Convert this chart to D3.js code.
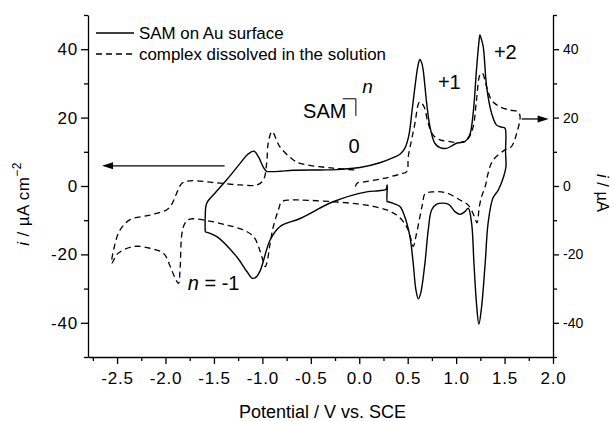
<!DOCTYPE html>
<html>
<head>
<meta charset="utf-8">
<script src="https://cdn.jsdelivr.net/npm/d3@7"></script>
<style>
  html, body { margin: 0; padding: 0; background: #fff; }
  svg { display: block; font-family: "Liberation Sans", Arial, sans-serif; }
  .axis path, .axis line { stroke: #000; stroke-width: 1.3; }
  .axis text { fill: #000; }
</style>
</head>
<body>
<svg id="chart" width="613" height="421"></svg>
<script>
// Cyclic voltammograms: SAM on Au (left axis, µA cm^-2) and complex in solution (right axis, µA)
const samPotential = [
  -1.59, -1.59, -1.575, -1.49, -1.37, -1.23, -1.15, -1.087, -1.04, -0.99, -0.956, -0.92, -0.82, -0.68,
  -0.4, -0.233, 0.007, 0.213, 0.35, 0.42, 0.47, 0.51, 0.545, 0.575, 0.605, 0.626, 0.645, 0.66, 0.696,
  0.73, 0.78, 0.833, 0.9, 0.96, 1.005, 1.09, 1.14, 1.176, 1.21, 1.235, 1.246, 1.26, 1.28, 1.315,
  1.366, 1.418, 1.47, 1.504, 1.51, 1.514, 1.49, 1.435, 1.38, 1.33, 1.30, 1.263, 1.235, 1.21, 1.184,
  1.16, 1.125, 1.09, 1.04, 0.988, 0.918, 0.8, 0.747, 0.712, 0.678, 0.634, 0.61, 0.585, 0.557, 0.523,
  0.47, 0.42, 0.35, 0.30, 0.289, 0.289, 0.275, 0.2, 0.076, -0.27, -0.61, -0.82, -0.92, -1.02, -1.06,
  -1.1, -1.16, -1.265, -1.47, -1.59
];
const samCurrent = [
  -13.4, -9.0, -5.1, -2.1, 1.75, 6.6, 9.3, 10.2, 8.5, 5.5, 4.3, 4.2, 4.3, 4.6,
  4.7, 4.8, 5.4, 6.8, 8.3, 9.3, 11.0, 14.5, 22.0, 29.0, 35.0, 37.0, 36.0, 33.9, 24.2,
  17.3, 12.5, 11.2, 11.0, 11.8, 12.5, 13.0, 14.9, 21.3, 33.9, 42.0, 44.2, 43.0, 40.7, 29.0,
  21.3, 17.8, 17.2, 16.9, 10.0, 5.6, 2.7, -1.2, -3.5, -10.9, -22.6, -35.3, -40.4, -34.3, -22.6,
  -10.9, -6.5, -7.5, -8.3, -7.5, -5.3, -5.3, -7.0, -12.9, -22.6, -31.4, -33.0, -30.4, -22.6, -14.8,
  -9.0, -6.0, -5.1, -4.6, -4.6, 0.3, -1.0, -1.4, -1.7, -4.6, -9.5, -11.9, -15.8, -24.6, -26.5,
  -27.0, -25.0, -20.7, -14.8, -13.4
];

const solPotential = [
  -0.04, -0.02, 0.05, 0.25, 0.42, 0.49, 0.506, 0.54, 0.575, 0.61, 0.626, 0.668, 0.712, 0.763,
  0.833, 0.936, 1.04, 1.125, 1.176, 1.21, 1.246, 1.27, 1.315, 1.366, 1.45, 1.555, 1.64, 1.66,
  1.625, 1.57, 1.50, 1.38, 1.33, 1.30, 1.263, 1.24, 1.215, 1.19, 1.125, 1.04, 0.9, 0.763, 0.678,
  0.654, 0.626, 0.592, 0.557, 0.54, 0.506, 0.454, 0.386, 0.283, 0.076, -0.27, -0.61, -0.715, -0.8,
  -0.835, -0.887, -0.92, -0.95, -0.97, -0.99, -1.04, -1.09, -1.19, -1.37, -1.575, -1.75, -1.8,
  -1.83, -1.85, -1.866, -1.9, -1.95, -2.02, -2.16, -2.33, -2.49, -2.555, -2.52, -2.47, -2.37,
  -2.16, -1.99, -1.94, -1.885, -1.83, -1.75, -1.5, -1.23, -1.06, -0.99, -0.956, -0.94, -0.9,
  -0.82, -0.68, -0.61, -0.27, -0.04
];
const solCurrent = [
  -0.2, 0.9, 1.2, 2.2, 3.5, 4.2, 8.6, 13.5, 18.3, 24.0, 24.6, 23.2, 18.3, 14.9,
  13.5, 13.0, 12.7, 13.9, 17.3, 25.1, 32.5, 33.0, 29.0, 25.1, 23.2, 22.2, 21.7, 20.3,
  15.4, 11.5, 10.5, 7.5, 3.7, -0.2, -3.1, -6.0, -10.8, -9.0, -5.6, -4.1, -2.0, -1.7, -2.3,
  -5.1, -9.0, -13.8, -17.7, -16.3, -12.9, -10.4, -8.5, -7.0, -5.6, -4.6, -4.1, -4.1, -4.6,
  -7.0, -11.9, -16.8, -22.0, -23.6, -22.1, -17.7, -14.8, -12.9, -11.4, -10.1, -9.7, -10.9,
  -13.8, -24.6, -28.5, -27.0, -23.6, -19.7, -18.2, -17.7, -19.7, -22.6, -16.8, -12.9, -9.9,
  -8.5, -7.0, -5.6, -2.1, 0.8, 1.5, 1.0, 0.3, 0.3, 1.75, 6.6, 12.5, 15.9,
  11.5, 7.6, 6.6, 5.2, 4.7
];

const xTickValues = [-2.5, -2.0, -1.5, -1.0, -0.5, 0.0, 0.5, 1.0, 1.5, 2.0];
const xMinorValues = [-2.75, -2.25, -1.75, -1.25, -0.75, -0.25, 0.25, 0.75, 1.25, 1.75];
const yTickValues = [-40, -20, 0, 20, 40];
const yMinorValues = [-50, -30, -10, 10, 30, 50];

const legendLabels = ["SAM on Au surface", "complex dissolved in the solution"];

const W = 613, H = 421;
const margin = { top: 15, right: 60, bottom: 64, left: 88 };
const svg = d3.select("#chart");

const x = d3.scaleLinear().domain([-2.8, 2.0]).range([margin.left, W - margin.right]);
const y = d3.scaleLinear().domain([-50, 50]).range([H - margin.bottom, margin.top]);
const yR = d3.scaleLinear().domain([-50, 50]).range([H - margin.bottom, margin.top]);

const fmtX = d => d.toFixed(1);
const fmtY = d => String(d);
const FONT = "Liberation Sans, Arial, sans-serif";

// Bottom axis
const gx = svg.append("g").attr("class", "axis")
  .attr("transform", `translate(0,${H - margin.bottom})`)
  .call(d3.axisBottom(x).tickValues(xTickValues).tickFormat(fmtX)
    .tickSize(7).tickSizeOuter(0).tickPadding(8));
gx.selectAll("text").attr("font-size", 17).attr("letter-spacing", 0.8).attr("font-family", FONT);
svg.append("g").attr("class", "axis")
  .attr("transform", `translate(0,${H - margin.bottom})`)
  .call(d3.axisBottom(x).tickValues(xMinorValues).tickFormat("").tickSize(4).tickSizeOuter(0))
  .select(".domain").remove();

// Left axis
const gy = svg.append("g").attr("class", "axis")
  .attr("transform", `translate(${margin.left},0)`)
  .call(d3.axisLeft(y).tickValues(yTickValues).tickFormat(fmtY)
    .tickSize(7).tickSizeOuter(0).tickPadding(3));
gy.selectAll("text").attr("font-size", 17).attr("letter-spacing", 0.8).attr("font-family", FONT);
svg.append("g").attr("class", "axis")
  .attr("transform", `translate(${margin.left},0)`)
  .call(d3.axisLeft(y).tickValues(yMinorValues).tickFormat("").tickSize(4).tickSizeOuter(0))
  .select(".domain").remove();

// Right axis
const gyr = svg.append("g").attr("class", "axis")
  .attr("transform", `translate(${W - margin.right},0)`)
  .call(d3.axisRight(yR).tickValues(yTickValues).tickFormat(fmtY)
    .tickSize(6).tickSizeOuter(0).tickPadding(4));
gyr.selectAll("text").attr("font-size", 14).attr("font-family", FONT);
svg.append("g").attr("class", "axis")
  .attr("transform", `translate(${W - margin.right},0)`)
  .call(d3.axisRight(yR).tickValues(yMinorValues).tickFormat("").tickSize(4).tickSizeOuter(0))
  .select(".domain").remove();

// Axis titles
svg.append("text")
  .attr("x", (x.range()[0] + x.range()[1]) / 2 + 2).attr("y", 418)
  .attr("text-anchor", "middle").attr("font-size", 18)
  .text("Potential / V vs. SCE");

const leftTitle = svg.append("text")
  .attr("transform", `translate(29,204) rotate(-90)`)
  .attr("text-anchor", "middle").attr("font-size", 17).attr("letter-spacing", 0.4);
leftTitle.append("tspan").attr("font-style", "italic").text("i");
leftTitle.append("tspan").text(" / \u00B5A cm");
leftTitle.append("tspan").attr("font-size", 12).attr("dy", -8).text("\u22122");

const rightTitle = svg.append("text")
  .attr("transform", `translate(597,193) rotate(90)`)
  .attr("text-anchor", "middle").attr("font-size", 16.5);
rightTitle.append("tspan").attr("font-style", "italic").text("i");
rightTitle.append("tspan").text(" / \u00B5A");

// Curves
const samData = samPotential.map((v, i) => [v, samCurrent[i]]);
const solData = solPotential.map((v, i) => [v, solCurrent[i]]);

const lineL = d3.line().x(d => x(d[0])).y(d => y(d[1])).curve(d3.curveCatmullRom.alpha(0.5));
const lineR = d3.line().x(d => x(d[0])).y(d => yR(d[1])).curve(d3.curveCatmullRom.alpha(0.5));

svg.append("path").datum(solData)
  .attr("d", lineR).attr("fill", "none").attr("stroke", "#000")
  .attr("stroke-width", 1.3).attr("stroke-dasharray", "6,4");
svg.append("path").datum(samData)
  .attr("d", lineL).attr("fill", "none").attr("stroke", "#000")
  .attr("stroke-width", 1.4);

// Legend
const legend = svg.append("g").attr("transform", "translate(96,33)");
legendLabels.forEach((lab, i) => {
  const row = legend.append("g").attr("transform", `translate(0,${i * 21})`);
  row.append("line").attr("x1", 0).attr("x2", 38).attr("y1", 0).attr("y2", 0)
    .attr("stroke", "#000").attr("stroke-width", 1.3)
    .attr("stroke-dasharray", i === 1 ? "6,4" : null);
  row.append("text").attr("x", 43).attr("y", 6).attr("font-size", 16.9).text(lab);
});

// Annotations
const ann = svg.append("g").attr("font-size", 20);
ann.append("text").attr("x", x(-0.58)).attr("y", y(19.8)).text("SAM");
ann.append("path")
  .attr("d", `M${x(-0.17)},${y(25.5)} H${x(-0.035)} V${y(20.5)}`)
  .attr("fill", "none").attr("stroke", "#000").attr("stroke-width", 1);
ann.append("text").attr("x", x(0.03)).attr("y", y(27.2))
  .attr("font-style", "italic").attr("font-size", 19).text("n");
ann.append("text").attr("x", x(-0.11)).attr("y", y(9.6)).text("0");
ann.append("text").attr("x", x(0.812)).attr("y", y(28.3)).text("+1");
ann.append("text").attr("x", x(1.39)).attr("y", y(37.1)).text("+2");
const nLab = ann.append("text").attr("x", x(-1.77)).attr("y", y(-30.4));
nLab.append("tspan").attr("font-style", "italic").text("n");
nLab.append("tspan").text(" = -1");

// Arrows pointing to the corresponding axes
function arrow(x1, x2, yy) {
  const dir = Math.sign(x2 - x1);
  svg.append("line").attr("x1", x1).attr("x2", x2 - dir * 8).attr("y1", yy).attr("y2", yy)
    .attr("stroke", "#000").attr("stroke-width", 1.3);
  svg.append("path")
    .attr("d", `M${x2},${yy} L${x2 - dir * 11},${yy - 3.5} L${x2 - dir * 11},${yy + 3.5} Z`)
    .attr("fill", "#000");
}
arrow(x(-1.39), x(-2.655), y(5.9));
arrow(x(1.676), x(1.955), yR(19.6));
</script>
</body>
</html>
